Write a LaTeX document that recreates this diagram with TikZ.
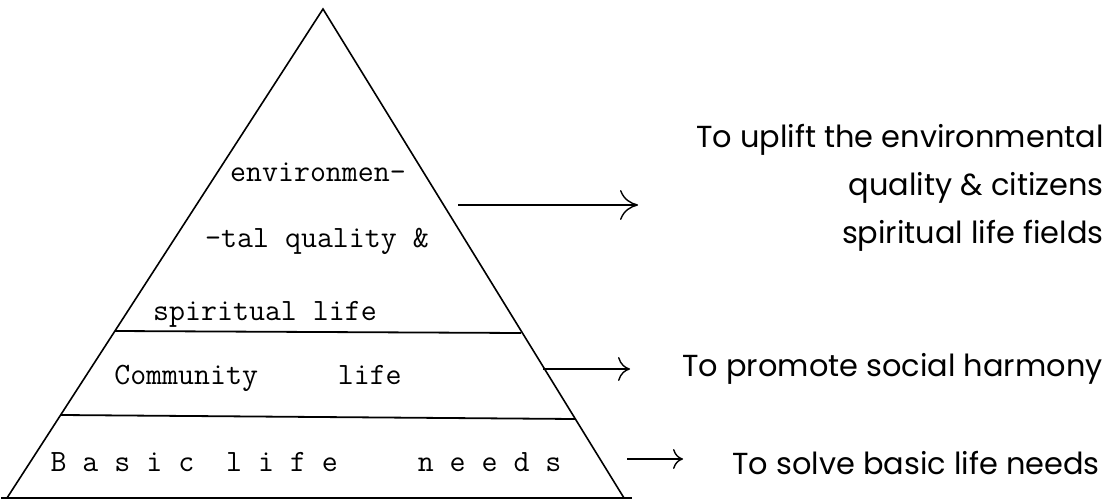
\documentclass[tikz,border=0pt]{standalone}
\usepackage{fontspec}
\newfontfamily\goalfont{Poppins}
\usetikzlibrary{arrows.meta}

\begin{document}
\begin{tikzpicture}[x=0.5pt, y=-0.5pt,
    edge/.style={line width=0.8pt},
    layer/.style={font=\ttfamily\fontsize{15.5}{18}\selectfont, inner sep=0pt},
    goal/.style={font=\goalfont\fontsize{15.2}{24}\selectfont, align=right, anchor=east, inner sep=0pt},
    arr/.style={line width=0.7pt, -{Computer Modern Rightarrow[length=6pt, width=12pt]}}]
    \useasboundingbox (0,0) rectangle (1119,503);
    \coordinate (apex) at (323,9);
    \coordinate (bl) at (7,498);
    \coordinate (br) at (624,498);
    \coordinate (u1) at (115,331);
    \coordinate (u2) at (521,333);
    \coordinate (m1) at (61,415);
    \coordinate (m2) at (575,419);
    \draw[edge] (bl) -- (apex) -- (br);
    \draw[line width=1.3pt] ([xshift=-3]bl) -- ([xshift=4]br);
    \draw[line width=0.9pt] (u1) -- (u2);
    \draw[line width=0.9pt] (m1) -- (m2);

    \node[layer] (env1) at (318,172) {environmen-};
    \node[layer] (env2) at (317,241) {-tal quality \&};
    \node[layer] (env3) at (265,314) {spiritual life};
    \node[layer] (comm) at (258,378) {Community~~~~~life};
    \node[layer] (basic) at (306,462) {B~a~s~i~c~~l~i~f~e~~~~~n~e~e~d~s};

    \node[goal] (goal1) at (1104,188) {To uplift the environmental\\quality \& citizens\\spiritual life fields};
    \node[goal] (goal2) at (1103,369) {To promote social harmony};
    \node[goal] (goal3) at (1100,463) {To solve basic life needs};

    \coordinate (a1s) at (458,205);
    \coordinate (a1e) at (638,205);
    \coordinate (a2s) at (543,369);
    \coordinate (a2e) at (630,369);
    \coordinate (a3s) at (627,459);
    \coordinate (a3e) at (683,459);
    \draw[arr, -{Computer Modern Rightarrow[length=9pt, width=15pt]}] (a1s) -- (a1e);
    \draw[arr] (a2s) -- (a2e);
    \draw[arr, -{Computer Modern Rightarrow[length=5pt, width=10pt]}] (a3s) -- (a3e);
\end{tikzpicture}
\end{document}
